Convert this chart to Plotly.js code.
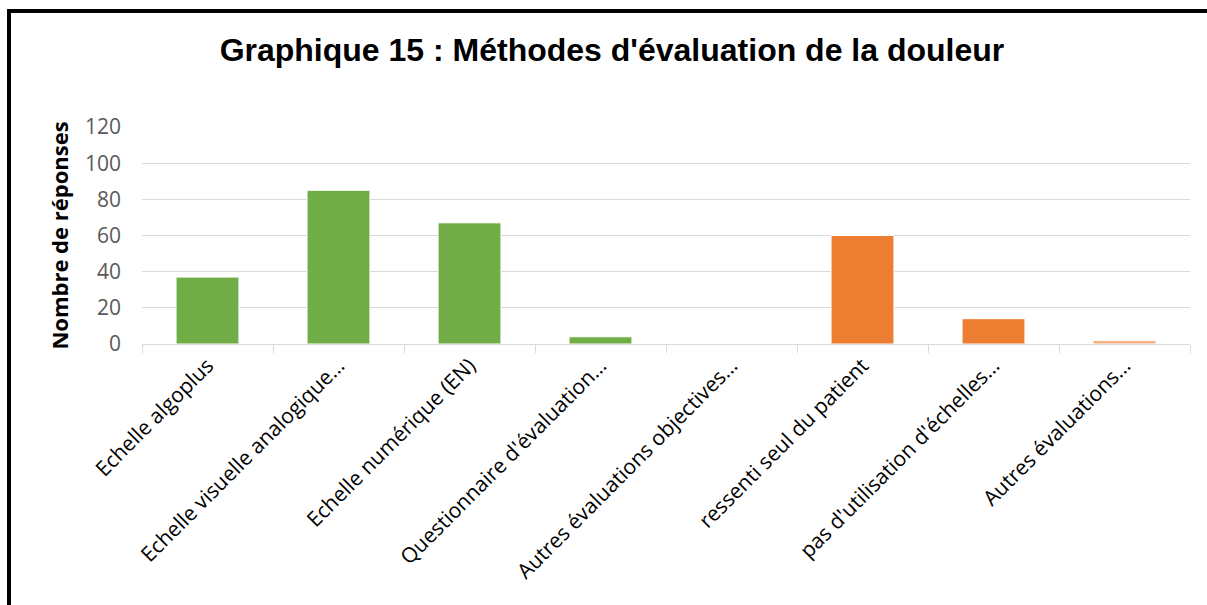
<!DOCTYPE html>
<html>
<head>
<meta charset="utf-8">
<script src="https://cdn.plot.ly/plotly-3.0.1.min.js"></script>
<style>
  html, body { margin: 0; padding: 0; background: #ffffff; overflow: hidden; }
  #wrap { position: relative; width: 1207px; height: 605px; overflow: hidden; }
  #chart { width: 1207px; height: 605px; }
  #frame { position: absolute; left: 7px; top: 9px; width: 1400px; height: 800px;
           border-left: 4px solid #000; border-top: 4px solid #000; pointer-events: none; }
</style>
</head>
<body>
<div id="wrap">
  <div id="chart"></div>
  <div id="frame"></div>
</div>
<script>
const categories = [
  "Echelle algoplus",
  "Echelle visuelle analogique…",
  "Echelle numérique (EN)",
  "Questionnaire d'évaluation…",
  "Autres évaluations objectives…",
  "ressenti seul du patient",
  "pas d'utilisation d'échelles…",
  "Autres évaluations…"
];
const values = [37, 85, 67, 4, 0, 60, 14, 2];
const barColors = ["#70AD47", "#70AD47", "#70AD47", "#70AD47", "#70AD47", "#ED7D31", "#ED7D31", "#F4B183"];
const yTicks = [0, 20, 40, 60, 80, 100, 120];

const trace = {
  type: "bar",
  x: categories,
  y: values,
  marker: { color: barColors, line: { color: "#ffffff", width: 1 } },
  hoverinfo: "x+y"
};

const layout = {
  width: 1207,
  height: 605,
  paper_bgcolor: "#ffffff",
  plot_bgcolor: "#ffffff",
  margin: { l: 142, r: 17, t: 127, b: 261, pad: 0 },
  showlegend: false,
  bargap: 0.52,
  title: {
    text: "<b>Graphique 15 : Méthodes d'évaluation de la douleur</b>",
    font: { family: "Liberation Sans, Arial, sans-serif", size: 32, color: "#000000" },
    x: 0.507, xanchor: "center", y: 0.917, yanchor: "middle"
  },
  xaxis: {
    type: "category",
    tickson: "boundaries",
    ticks: "outside",
    ticklen: 8,
    tickcolor: "#d9d9d9",
    tickwidth: 1,
    showline: true,
    linecolor: "#d9d9d9",
    linewidth: 1,
    showgrid: false,
    tickangle: -45,
    tickfont: { family: "Open Sans, Noto Sans, sans-serif", size: 21, color: "#000000" },
    automargin: false
  },
  yaxis: {
    range: [0, 120],
    tickvals: yTicks,
    ticktext: yTicks.map(String),
    showgrid: true,
    gridcolor: "#d9d9d9",
    gridwidth: 1,
    zeroline: false,
    showline: false,
    ticks: "",
    ticklabelstandoff: 20,
    tickfont: { family: "Open Sans, Noto Sans, sans-serif", size: 21, color: "#595959" },
    title: {
      text: "<b>Nombre de réponses</b>",
      font: { family: "Open Sans, Noto Sans, sans-serif", size: 22, color: "#000000" },
      standoff: 10
    },
    automargin: false
  }
};

Plotly.newPlot("chart", [trace], layout, { displayModeBar: false });
</script>
</body>
</html>
